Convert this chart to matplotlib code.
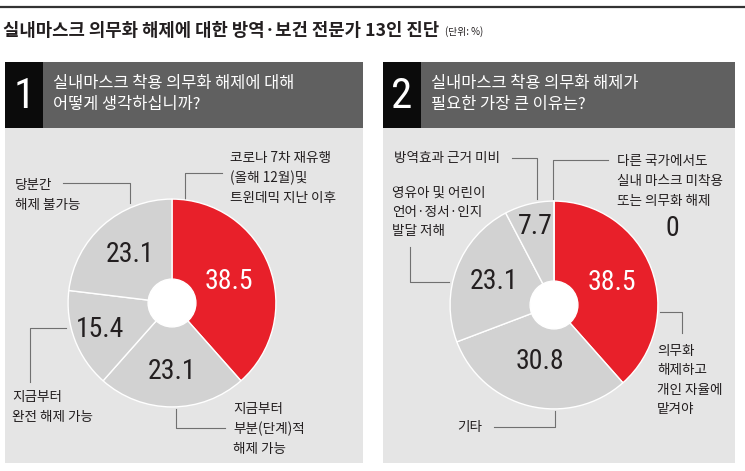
import matplotlib
matplotlib.use('Agg')
import matplotlib.pyplot as plt
from matplotlib import font_manager
from matplotlib.patches import Rectangle, Circle
import numpy as np

plt.rcParams['font.family'] = ['Noto Sans CJK KR', 'DejaVu Sans']

# data
title = '실내마스크 의무화 해제에 대한 방역·보건 전문가 13인 진단'
unit = '(단위: %)'

q1 = '실내마스크 착용 의무화 해제에 대해\n어떻게 생각하십니까?'
q1_labels = ['코로나 7차 재유행\n(올해 12월)및\n트윈데믹 지난 이후',
             '지금부터\n부분(단계)적\n해제 가능',
             '지금부터\n완전 해제 가능',
             '당분간\n해제 불가능']
q1_values = [38.5, 23.1, 15.4, 23.1]

q2 = '실내마스크 착용 의무화 해제가\n필요한 가장 큰 이유는?'
q2_labels = ['의무화\n해제하고\n개인 자율에\n맡겨야',
             '기타',
             '영유아 및 어린이\n언어·정서·인지\n발달 저해',
             '방역효과 근거 미비',
             '다른 국가에서도\n실내 마스크 미착용\n또는 의무화 해제']
q2_values = [38.5, 30.8, 23.1, 7.7, 0]

RED = '#e8202a'
GRAY = '#d2d2d2'
BG = '#e5e5e5'
DARK = '#231f20'
LINE = '#707070'

avail = {f.name for f in font_manager.fontManager.ttflist}
num_font = next((f for f in ['Liberation Sans Narrow', 'Roboto Condensed', 'Liberation Sans']
                 if f in avail), 'DejaVu Sans')
num_size = 20 if num_font != 'Liberation Sans' else 18

W, H = 745, 471
fig = plt.figure(figsize=(W / 100, H / 100), dpi=100)
fig.patch.set_facecolor('white')
ax0 = fig.add_axes([0, 0, 1, 1])
ax0.set_xlim(0, W)
ax0.set_ylim(H, 0)
ax0.axis('off')

# top rule and title
ax0.plot([0, W], [7, 7], color='#333333', lw=1.6, solid_capstyle='butt')
t = ax0.text(3, 31, title, fontsize=12.8, fontweight='heavy', color=DARK, va='center')
ax0.annotate(unit, xy=(1, 0), xycoords=t, xytext=(4, 2), textcoords='offset points',
             fontsize=7, color=DARK, va='bottom')

# panels
def panel(x0, x1, num, question):
    ax0.add_patch(Rectangle((x0, 62), x1 - x0, 401, color=BG, lw=0))
    ax0.add_patch(Rectangle((x0, 62), 38, 66, color='#0b0b0b', lw=0))
    ax0.add_patch(Rectangle((x0 + 38, 62), x1 - x0 - 38, 66, color='#606060', lw=0))
    ax0.text(x0 + 19, 96, num, fontsize=31, color='white', ha='center', va='center',
             family=[num_font, 'Noto Sans CJK KR'])
    ax0.text(x0 + 48, 94, question, fontsize=11.8, color='white', va='center',
             fontweight='medium', linespacing=1.35)

panel(5, 363, '1', q1)
panel(383, 735, '2', q2)

def donut(cx, cy, r, values, radii):
    ax = fig.add_axes([(cx - r) / W, 1 - (cy + r) / H, 2 * r / W, 2 * r / H])
    colors = [RED] + [GRAY] * (len(values) - 1)
    ax.pie(values, colors=colors, startangle=90, counterclock=False,
           wedgeprops=dict(edgecolor='white', linewidth=1.0))
    ax.add_patch(Circle((0, 0), 0.23, color='white', zorder=5))
    ax.set_xlim(-1.02, 1.02)
    ax.set_ylim(-1.02, 1.02)
    ax.set_aspect('equal')
    ax.axis('off')
    start = 0
    for i, v in enumerate(values):
        if v == 0:
            continue
        mid = np.deg2rad((start + v / 2) * 3.6)
        start += v
        rr = radii[i]
        ax.text(rr * np.sin(mid), rr * np.cos(mid), f'{v:.1f}', fontsize=num_size,
                color='white' if i == 0 else DARK, ha='center', va='center',
                family=[num_font, 'Noto Sans CJK KR'])
    return ax

donut(172, 303, 106, q1_values, [0.58, 0.66, 0.74, 0.62])
donut(554, 305, 106, q2_values, [0.6, 0.56, 0.62, 0.78, 0])

fs = 9.8
ls = 1.5
fw = 'medium'
# left panel labels
ax0.text(230, 178, q1_labels[0], fontsize=fs, color=DARK, va='center', linespacing=ls, fontweight=fw)
ax0.plot([222, 185, 185], [173, 173, 200], color=LINE, lw=0.8)
ax0.text(233, 429, q1_labels[1], fontsize=fs, color=DARK, va='center', linespacing=ls, fontweight=fw)
ax0.plot([176, 176, 225], [409, 428, 428], color=LINE, lw=0.8)
ax0.text(12, 407, q1_labels[2], fontsize=fs, color=DARK, va='center', linespacing=ls, fontweight=fw)
ax0.plot([66, 30, 30], [328, 328, 382], color=LINE, lw=0.8)
ax0.text(15, 195, q1_labels[3], fontsize=fs, color=DARK, va='center', linespacing=ls, fontweight=fw)
ax0.plot([63, 130, 130], [183, 183, 203], color=LINE, lw=0.8)

# right panel labels
ax0.text(657, 380, q2_labels[0], fontsize=fs, color=DARK, va='center', linespacing=ls, fontweight=fw)
ax0.plot([660, 682, 682], [312, 312, 333], color=LINE, lw=0.8)
ax0.text(457, 427, q2_labels[1], fontsize=fs, color=DARK, va='center', linespacing=ls, fontweight=fw)
ax0.plot([494, 555, 555], [427, 427, 411], color=LINE, lw=0.8)
ax0.text(392, 212, q2_labels[2], fontsize=fs, color=DARK, va='center', linespacing=ls, fontweight=fw)
ax0.plot([410, 410, 449], [247, 282, 282], color=LINE, lw=0.8)
ax0.text(394, 158, q2_labels[3], fontsize=fs, color=DARK, va='center', linespacing=ls, fontweight=fw)
ax0.plot([512, 537, 537], [158, 158, 199], color=LINE, lw=0.8)
ax0.text(617, 181, q2_labels[4], fontsize=fs, color=DARK, va='center', linespacing=ls, fontweight=fw)
ax0.plot([608, 553, 553], [160, 160, 199], color=LINE, lw=0.8)
ax0.text(672, 228, f'{q2_values[4]:g}', fontsize=num_size, color=DARK, ha='center',
         va='center', family=[num_font, 'Noto Sans CJK KR'])

fig.savefig('out.png', dpi=100)
